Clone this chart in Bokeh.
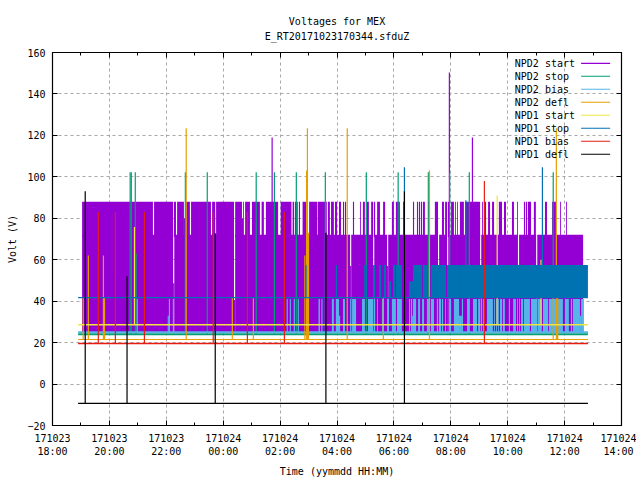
from bokeh.plotting import figure
from bokeh.models import Range1d, LinearAxis, FixedTicker, Title
from bokeh.core.properties import value
from bokeh.embed import file_html
from bokeh.resources import INLINE

FONT = "DejaVu Sans Mono"
SERIES = ["NPD2 start", "NPD2 stop", "NPD2 bias", "NPD2 defl", "NPD1 start", "NPD1 stop", "NPD1 bias", "NPD1 defl"]
COLORS = ["#9400d3", "#009e73", "#56b4e9", "#e69f00", "#f0e442", "#0072b2", "#e51e10", "#000000"]
TITLE_LINES = ["Voltages for MEX", "E_RT20171023170344.sfduZ"]

# time axis: hours after 171023 18:00
x_ticks = [0, 2, 4, 6, 8, 10, 12, 14, 16, 18, 20]
x_labels = ["171023\n18:00", "171023\n20:00", "171023\n22:00", "171024\n00:00", "171024\n02:00", "171024\n04:00",
            "171024\n06:00", "171024\n08:00", "171024\n10:00", "171024\n12:00", "171024\n14:00"]
y_ticks = [-20, 0, 20, 40, 60, 80, 100, 120, 140, 160]
t_first, t_last = 0.90, 18.82

# NPD2 start: high state (88 V) stretches, lower state (72 V), deep gaps
start2_high = [(1.04, 3.53), (3.57, 4.24), (4.27, 4.34), (4.38, 4.62), (4.66, 4.83), (4.87, 5.57), (5.61, 5.72),
               (5.75, 6.38), (6.42, 6.66), (6.70, 6.73), (6.77, 6.94), (7.01, 7.29), (7.35, 7.43), (7.50, 7.54),
               (7.54, 7.93), (8.02, 8.40), (8.44, 8.49), (8.52, 8.62), (8.66, 8.70), (8.79, 8.96), (9.02, 9.31),
               (9.33, 9.58), (9.61, 9.64), (9.68, 9.75), (9.79, 9.89), (9.93, 10.00), (10.07, 10.14), (10.21, 10.25),
               (10.28, 10.32), (10.56, 10.60), (10.81, 10.84), (10.91, 10.98), (11.05, 11.12), (11.20, 11.27),
               (11.30, 11.34), (11.41, 11.51), (11.62, 11.69), (11.93, 12.00), (12.07, 12.21), (12.32, 12.39),
               (12.67, 12.71), (12.81, 12.85), (12.88, 12.92), (12.95, 12.99), (13.02, 13.09), (13.20, 13.27),
               (13.44, 13.55), (13.69, 13.76), (13.80, 13.87), (13.90, 13.97), (14.01, 14.11), (14.15, 14.18),
               (14.22, 14.25), (14.32, 14.46), (14.50, 15.03), (15.10, 15.13), (15.17, 15.24), (15.31, 15.38),
               (15.45, 15.52), (15.69, 15.80), (15.87, 15.94), (16.15, 16.22), (16.33, 16.36), (16.57, 16.61),
               (16.64, 16.68), (16.71, 16.82), (16.92, 16.99), (17.31, 17.38), (17.56, 17.70), (17.84, 17.87),
               (18.05, 18.08)]
start2_part = [(4.62, 4.66, 80), (6.66, 6.70, 80)]
start2_low_span = (1.04, 18.65)
start2_low_level = 72
start2_high_level = 88
start2_floor = 25
start2_gaps = [(4.24, 48.6), (6.38, 40.6), (10.46, 57), (11.27, 57), (11.76, 57), (13.55, 57), (13.87, 57),
               (15.03, 57), (16.36, 57), (17.00, 57)]
start2_spikes = [(7.72, 119), (13.95, 150.3), (14.76, 119)]

# NPD2 stop
stop2_level = 24
stop2_spikes = [(2.73, 102.2), (2.77, 102.2), (2.91, 102.2), (2.94, 63), (4.67, 102.2), (5.44, 102.2), (7.16, 102.2),
                (7.80, 102.2), (8.57, 102.2), (9.59, 102.2), (11.03, 102.2), (12.15, 102.2), (13.21, 102.2),
                (13.96, 102.2), (14.65, 102.2), (17.60, 102.2)]

# NPD2 bias
bias2_level = 25
bias2_top = 41
bias2_blocks = [(2.96, 3.00), (4.09, 4.13), (4.23, 4.27), (8.23, 8.27), (8.34, 8.38), (8.48, 8.52), (8.62, 8.66),
                (9.35, 9.40), (9.45, 9.49), (9.82, 9.89), (9.96, 10.07), (10.21, 10.28), (10.46, 10.49), (10.53, 10.67),
                (10.88, 10.98), (11.09, 11.27), (11.30, 11.34), (11.41, 11.44), (11.58, 11.65), (11.76, 11.83),
                (11.93, 12.07), (12.11, 12.28), (12.53, 12.57), (12.60, 12.64), (12.67, 12.78), (12.85, 12.92),
                (12.99, 13.06), (13.16, 13.23), (13.30, 13.41), (13.51, 13.55), (13.58, 13.66), (13.69, 13.73),
                (13.80, 13.83), (13.94, 14.01), (14.11, 14.29), (14.39, 14.43), (14.57, 14.67), (14.78, 14.92),
                (14.96, 15.03), (15.06, 15.10), (15.13, 15.20), (15.27, 15.48), (15.52, 15.55), (15.59, 15.62),
                (15.66, 15.69), (15.73, 15.80), (15.83, 15.90), (16.04, 16.08), (16.19, 16.29), (16.33, 16.36),
                (16.40, 16.43), (16.47, 16.54), (16.57, 16.78), (16.82, 17.03), (17.06, 17.20), (17.24, 17.42),
                (17.45, 17.70), (17.73, 17.94), (18.01, 18.15), (18.22, 18.26), (18.29, 18.54), (18.58, 18.68)]
bias2_low_blocks = [(4.05, 4.09, 33), (10.07, 10.11, 33), (12.64, 12.67, 33), (14.29, 14.39, 33), (18.54, 18.58, 33)]

# NPD2 defl
defl2_level = 21.5
defl2_spikes = [(4.70, 123.5), (8.96, 123.5), (10.36, 123.5), (17.71, 123.5), (13.25, 103), (1.26, 62), (1.79, 62),
                (8.87, 62), (1.08, 41.5), (6.32, 41.5), (7.06, 41.5), (11.63, 41.5), (17.60, 41.5)]
defl2_blocks = [(8.91, 8.98, 103), (8.91, 9.02, 73), (1.80, 1.85, 41.5), (17.71, 17.78, 41.5)]

# NPD1 start
start1_level = 28.6
start1_spikes = [(2.88, 75.8), (15.63, 91), (17.17, 60)]

# NPD1 stop
stop1_level = 41.7
stop1_top = 57.5
stop1_blocks = [(9.96, 10.00, 57.5), (10.95, 10.98, 57.5), (11.02, 11.05, 57.5), (11.27, 11.34, 57.5),
                (11.48, 11.55, 57.5), (11.65, 11.72, 57.5), (11.83, 11.90, 49.6), (11.97, 12.04, 57.5),
                (12.07, 12.28, 57.5), (12.32, 12.35, 57.5), (12.53, 12.67, 49.6), (12.67, 12.99, 57.5),
                (13.02, 13.20, 57.5), (13.30, 13.83, 57.5), (13.87, 14.32, 57.5), (14.32, 18.82, 57.5)]
stop1_spikes = [(8.91, 57.3), (12.37, 104.6), (14.53, 88.7), (17.22, 104.6)]

# NPD1 bias
bias1_level = 19.6
bias1_spikes = [(1.61, 83), (2.21, 83), (3.23, 83), (5.65, 83), (6.85, 83), (8.15, 83), (15.18, 98)]

# NPD1 defl
defl1_level = -9.3
defl1_spikes = [(1.15, 93), (2.62, 52), (5.72, 72.8), (9.61, 73), (12.37, 93)]

LW = 1.2
p = figure(frame_width=569, frame_height=373, output_backend="svg", toolbar_location=None,
           x_range=Range1d(0, 20), y_range=Range1d(-20, 160), min_border_left=52, min_border_top=52,
           min_border_right=15, min_border_bottom=40, background_fill_color="white", outline_line_color="black",
           outline_line_width=1.2, title=None)


def style_axis(ax, labels):
    ax.major_tick_in = 5
    ax.major_tick_out = 0
    ax.minor_tick_in = 0
    ax.minor_tick_out = 0
    ax.axis_line_color = "black"
    ax.major_tick_line_color = "black"
    ax.minor_tick_line_color = "black"
    if labels:
        ax.major_label_text_font = FONT
        ax.major_label_text_font_size = "10px"
        ax.major_label_text_color = "black"
    ax.axis_label_text_font = FONT
    ax.axis_label_text_font_size = "10px"
    ax.axis_label_text_font_style = "normal"
    ax.axis_label_text_color = "black"


xax = p.xaxis[0]
yax = p.yaxis[0]
xax.ticker = FixedTicker(ticks=x_ticks, minor_ticks=[t + 1 for t in x_ticks[:-1]])
xax.major_label_overrides = dict(zip(x_ticks, x_labels))
yax.ticker = FixedTicker(ticks=y_ticks)
style_axis(xax, True)
style_axis(yax, True)
xax.minor_tick_in = 3
xax.axis_label = "Time (yymmdd HH:MM)"
yax.axis_label = "Volt (V)"
xax.major_label_standoff = 7
xax.axis_label_standoff = 6
yax.major_label_standoff = 7
yax.axis_label_standoff = 6

top = LinearAxis(ticker=FixedTicker(ticks=x_ticks, minor_ticks=[t + 1 for t in x_ticks[:-1]]))
style_axis(top, False)
top.minor_tick_in = 3
top.major_label_overrides = {t: "" for t in x_ticks}
top.major_label_standoff = 0
# the second title line sits clear of the frame as the upper axis's label
top.axis_label = TITLE_LINES[1]
top.axis_label_standoff = 11
p.add_layout(top, "above")
right = LinearAxis(ticker=FixedTicker(ticks=y_ticks))
style_axis(right, False)
right.major_label_overrides = {t: "" for t in y_ticks}
right.major_label_standoff = 0
p.add_layout(right, "right")

p.add_layout(Title(text=TITLE_LINES[0], align="center", text_font=FONT, text_font_size="10px",
                   text_font_style="normal", text_color="black", standoff=1, offset=0), "above")

for g, t in zip(p.grid, (x_ticks, y_ticks)):
    g.ticker = FixedTicker(ticks=t)
    g.grid_line_color = "#a8a8a8"
    g.grid_line_dash = "3 3"
    g.grid_line_width = 1


def blocks(items, bottom, top_value, color):
    p.quad(left=[i[0] for i in items], right=[i[1] for i in items], bottom=bottom,
           top=[i[2] if len(i) > 2 else top_value for i in items], fill_color=color, line_color=None)


def spikes(items, base, color):
    p.segment(x0=[i[0] for i in items], x1=[i[0] for i in items], y0=base, y1=[i[1] for i in items],
              line_color=color, line_width=LW)


def base_line(level, color, width=LW):
    p.segment(x0=[t_first], x1=[t_last], y0=[level], y1=[level], line_color=color, line_width=width)


# NPD2 start
gap_w = 0.04
cells, edge = [], start2_low_span[0]
for g, floor in start2_gaps:
    cells.append((edge, g, start2_low_level))
    cells.append((g, g + gap_w, floor))
    edge = g + gap_w
cells.append((edge, start2_low_span[1], start2_low_level))
blocks(cells, start2_floor, None, COLORS[0])
# lower edge tucked slightly into the 72 V band so no seam shows between the two states
blocks(start2_high, start2_low_level - 1, start2_high_level, COLORS[0])
blocks(start2_part, start2_low_level - 1, None, COLORS[0])
spikes(start2_spikes, start2_low_level, COLORS[0])

# NPD2 stop
base_line(stop2_level, COLORS[1], 2)
spikes(stop2_spikes, stop2_level, COLORS[1])

# NPD2 bias
blocks(bias2_blocks, bias2_level, bias2_top, COLORS[2])
blocks(bias2_low_blocks, bias2_level, None, COLORS[2])
base_line(bias2_level, COLORS[2], 2)

# NPD2 defl
base_line(defl2_level, COLORS[3])
spikes(defl2_spikes, defl2_level, COLORS[3])
blocks(defl2_blocks, defl2_level, None, COLORS[3])

# NPD1 start
base_line(start1_level, COLORS[4], 1.5)
spikes(start1_spikes, start1_level, COLORS[4])

# NPD1 stop
base_line(stop1_level, COLORS[5])
blocks(stop1_blocks, stop1_level, stop1_top, COLORS[5])
spikes(stop1_spikes, stop1_level, COLORS[5])

# NPD1 bias
base_line(bias1_level, COLORS[6], 1.5)
spikes(bias1_spikes, bias1_level, COLORS[6])

# NPD1 defl
base_line(defl1_level, COLORS[7])
spikes(defl1_spikes, defl1_level, COLORS[7])

# key
key_text_x, key_x0, key_x1 = 16.25, 18.58, 19.6
key_y0, key_dy = 154.8, 6.27
for i, (name, col) in enumerate(zip(SERIES, COLORS)):
    y = key_y0 - i * key_dy
    p.text(x=[key_text_x], y=[y], text=[name], text_font=value(FONT), text_font_size="10px", text_color="black",
           text_baseline="middle", text_align="left")
    p.segment(x0=[key_x0], x1=[key_x1], y0=[y], y1=[y], line_color=col, line_width=LW)

html = file_html(p, INLINE)
open("out.html", "w").write(html)
